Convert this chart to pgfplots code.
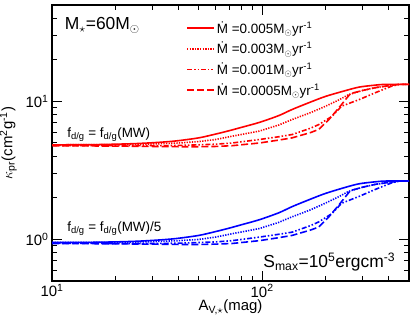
\documentclass[border=0pt]{standalone}
\usepackage{fontspec}
\setmainfont{Liberation Sans}
\usepackage{pgfplots}
\pgfplotsset{compat=1.18}
\begin{document}
\begin{tikzpicture}
\begin{axis}[
  at={(0,0)}, anchor=south west,
  scale only axis, width=357bp, height=276bp,
  xmode=log, ymode=log,
  xmin=10, xmax=500, ymin=0.5, ymax=50,
  xtick={10,100}, xticklabels={10\textsuperscript{1},10\textsuperscript{2}},
  ytick={1,10}, yticklabels={10\textsuperscript{0},10\textsuperscript{1}},
  minor xtick={20,30,40,50,60,70,80,90,200,300,400,500},
  minor ytick={0.5,0.6,0.7,0.8,0.9,2,3,4,5,6,7,8,9,20,30,40,50},
  tick align=inside, major tick length=10bp, minor tick length=5bp,
  tick style={black, line width=1pt},
  axis line style={line width=1.2pt},
  ticklabel style={font=\fontsize{15}{17}\selectfont},
  xlabel={A\textsubscript{V,$\star$}(mag)},
  ylabel={$\kappa$\textsubscript{pr}(cm\textsuperscript{2}g\textsuperscript{-1})},
  label style={font=\fontsize{15}{17}\selectfont},
  xlabel style={yshift=4bp},
  ylabel style={yshift=2bp},
  legend style={draw=none, fill=none, at={(0.37,0.955)}, anchor=north west,
    font=\fontsize{13.5}{15}\selectfont, row sep=3.5pt, inner sep=2pt},
  legend cell align=left,
  legend image code/.code={\draw[#1, line width=1.6pt] (0bp,0bp) -- (27bp,0bp);},
  every axis plot/.append style={line width=1.6pt},
]
\addplot[red, smooth] coordinates {(10,4.85)(15,4.86)(20,4.9)(25,4.95)(30,5.02)(35,5.1)(40,5.2)(50,5.45)(60,5.8)(70,6.15)(80,6.5)(97,7.05)(120,7.9)(139,8.75)(170,9.9)(201,10.9)(250,12.0)(289,12.7)(340,13.1)(387,13.3)(500,13.3)};
\addlegendentry{\.{M} =0.005M\textsubscript{$\odot$}yr\textsuperscript{-1}}
\addplot[red, dash pattern=on 1.3pt off 1.3pt] coordinates {(10,4.85)(20,4.86)(30,4.92)(40,5.0)(50,5.12)(60,5.3)(72,5.6)(97,6.1)(120,6.75)(139,7.4)(170,8.3)(201,9.25)(230,10.2)(258,11.2)(300,12.0)(347,12.6)(413,13.1)(450,13.3)(500,13.3)};
\addlegendentry{\.{M} =0.003M\textsubscript{$\odot$}yr\textsuperscript{-1}}
\addplot[red, dash pattern=on 5pt off 2pt on 1.5pt off 2pt on 1.5pt off 2pt] coordinates {(10,4.8)(20,4.78)(30,4.78)(40,4.8)(50,4.85)(60,4.9)(72,5.0)(97,5.3)(120,5.55)(139,5.76)(170,6.4)(186,6.8)(215,7.8)(239,9.25)(289,10.3)(347,11.6)(413,12.9)(450,13.3)(500,13.3)};
\addlegendentry{\.{M} =0.001M\textsubscript{$\odot$}yr\textsuperscript{-1}}
\addplot[red, dash pattern=on 7pt off 3pt] coordinates {(10,4.78)(20,4.75)(30,4.72)(40,4.7)(50,4.7)(60,4.72)(72,4.78)(97,5.0)(120,5.25)(139,5.45)(170,5.95)(186,6.27)(208,7.4)(232,9.0)(263,11.4)(300,12.0)(347,12.6)(413,13.1)(450,13.3)(500,13.3)};
\addlegendentry{\.{M} =0.0005M\textsubscript{$\odot$}yr\textsuperscript{-1}}
\addplot[blue, smooth, forget plot] coordinates {(10,0.95)(15,0.953)(20,0.96)(25,0.97)(30,0.984)(35,1.0)(40,1.02)(50,1.07)(60,1.14)(70,1.21)(80,1.28)(97,1.39)(120,1.56)(139,1.73)(170,1.96)(201,2.16)(250,2.39)(289,2.53)(340,2.61)(387,2.65)(500,2.65)};
\addplot[blue, dash pattern=on 1.3pt off 1.3pt, forget plot] coordinates {(10,0.95)(20,0.953)(30,0.964)(40,0.98)(50,1.0)(60,1.04)(72,1.1)(97,1.2)(120,1.33)(139,1.46)(170,1.64)(201,1.84)(230,2.03)(258,2.23)(300,2.39)(347,2.51)(413,2.61)(450,2.65)(500,2.65)};
\addplot[blue, dash pattern=on 5pt off 2pt on 1.5pt off 2pt on 1.5pt off 2pt, forget plot] coordinates {(10,0.94)(20,0.935)(30,0.935)(40,0.94)(50,0.95)(60,0.96)(72,0.98)(97,1.04)(120,1.09)(139,1.13)(170,1.26)(186,1.34)(215,1.54)(239,1.83)(289,2.05)(347,2.31)(413,2.57)(450,2.65)(500,2.65)};
\addplot[blue, dash pattern=on 7pt off 3pt, forget plot] coordinates {(10,0.935)(20,0.93)(30,0.925)(40,0.92)(50,0.92)(60,0.925)(72,0.935)(97,0.98)(120,1.03)(139,1.07)(170,1.17)(186,1.23)(208,1.46)(232,1.78)(263,2.26)(300,2.39)(347,2.51)(413,2.61)(450,2.65)(500,2.65)};
\node[anchor=west, font=\fontsize{17.5}{19}\selectfont, inner sep=0pt] at (axis cs:11.5,35.6) {M\textsubscript{$\star$}=60M\textsubscript{$\odot$}};
\node[anchor=west, font=\fontsize{13.5}{15}\selectfont, inner sep=0pt] at (axis cs:11.8,5.76) {f\textsubscript{d/g} = f\textsubscript{d/g}(MW)};
\node[anchor=west, font=\fontsize{13.5}{15}\selectfont, inner sep=0pt] at (axis cs:11.8,1.2) {f\textsubscript{d/g} = f\textsubscript{d/g}(MW)/5};
\node[anchor=east, font=\fontsize{17.5}{19}\selectfont, inner sep=0pt] at (axis cs:431,0.683) {S\textsubscript{max}=10\textsuperscript{5}ergcm\textsuperscript{-3}};
\end{axis}
\pgfresetboundingbox
\useasboundingbox (-52bp,-43bp) rectangle (363bp,281bp);
\end{tikzpicture}
\end{document}
